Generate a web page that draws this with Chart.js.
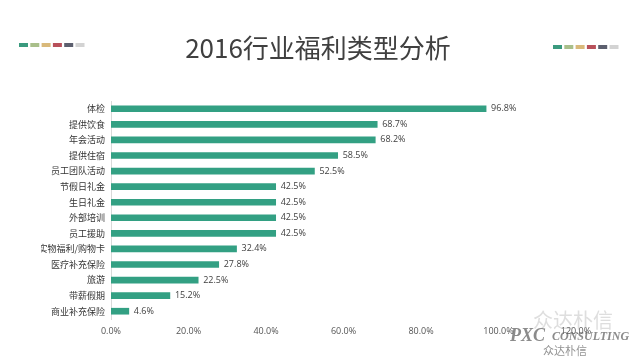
<!DOCTYPE html>
<html>
<head>
<meta charset="utf-8">
<script src="https://cdn.jsdelivr.net/npm/chart.js@4.4.1/dist/chart.umd.min.js"></script>
<style>
  html, body { margin: 0; padding: 0; background: #fff; }
  #wrap { position: relative; width: 640px; height: 360px; }
</style>
</head>
<body>
<div id="wrap"><canvas id="chart" width="640" height="360"></canvas></div>
<script>
// 福利类型（上から順）
const categories = [
  "体检", "提供饮食", "年会活动", "提供住宿", "员工团队活动",
  "节假日礼金", "生日礼金", "外部培训", "员工援助", "实物福利/购物卡",
  "医疗补充保险", "旅游", "带薪假期", "商业补充保险"
];
// 占比（%）
const shares = [96.8, 68.7, 68.2, 58.5, 52.5, 42.5, 42.5, 42.5, 42.5, 32.4, 27.8, 22.5, 15.2, 4.6];
const xTicks = [0, 20, 40, 60, 80, 100, 120];

const titleText = "2016行业福利类型分析";
const swatches = ["#3a9a7e", "#a9bf8a", "#d9b97a", "#b8505a", "#5c5f6e", "#d3d3d3"];
const cjk = "'Noto Sans CJK SC', 'Noto Sans', sans-serif";

// タイトルと飾り
const decor = {
  id: "decor",
  beforeDraw(chart) {
    const c = chart.ctx;
    c.save();
    c.fillStyle = "#404040";
    c.font = "26px " + cjk;
    c.textAlign = "center";
    c.textBaseline = "middle";
    c.fillText(titleText, 318, 48);
    const row = (x0, y) => {
      swatches.forEach((col, i) => {
        c.fillStyle = col;
        c.fillRect(x0 + i * 11.3, y, 9, 4);
      });
    };
    row(19, 43);
    row(553, 45);
    c.restore();
  },
  afterDraw(chart) {
    // 透かし
    const c = chart.ctx;
    c.save();
    c.textAlign = "left";
    c.textBaseline = "middle";
    c.fillStyle = "rgba(160,160,160,0.35)";
    c.font = "20px " + cjk;
    c.fillText("众达朴信", 533, 320);
    c.fillStyle = "rgba(100,100,100,0.75)";
    c.font = "italic bold 18px 'Liberation Serif', serif";
    c.fillText("PXC", 510, 336);
    c.font = "italic bold 12px 'Liberation Serif', serif";
    c.fillText("CONSULTING", 552, 337);
    c.fillStyle = "rgba(100,100,100,0.7)";
    c.font = "11px " + cjk;
    c.fillText("众达朴信", 543, 351);
    c.restore();
  }
};

// 数値ラベル
const valueLabels = {
  id: "valueLabels",
  afterDatasetsDraw(chart) {
    const c = chart.ctx;
    const meta = chart.getDatasetMeta(0);
    c.save();
    c.fillStyle = "#404040";
    c.font = "9px 'Open Sans', 'Noto Sans', sans-serif";
    c.textAlign = "left";
    c.textBaseline = "middle";
    meta.data.forEach((bar, i) => {
      c.fillText(shares[i].toFixed(1) + "%", bar.x + 5, bar.y);
    });
    c.restore();
  }
};

new Chart(document.getElementById("chart").getContext("2d"), {
  type: "bar",
  data: {
    labels: categories,
    datasets: [{
      data: shares,
      backgroundColor: "#33a083",
      barThickness: 6
    }]
  },
  options: {
    indexAxis: "y",
    responsive: false,
    animation: false,
    layout: { padding: { top: 101, left: 41, right: 64, bottom: 11 } },
    plugins: {
      legend: { display: false },
      tooltip: { enabled: false }
    },
    scales: {
      x: {
        min: 0,
        max: 120,
        afterFit: (s) => { s.height = 30; },
        afterBuildTicks: (s) => { s.ticks = xTicks.map(v => ({ value: v })); },
        grid: { display: false, drawTicks: false },
        border: { display: false },
        ticks: {
          padding: 7,
          color: "#555",
          font: { size: 9, family: "'Open Sans', 'Noto Sans', sans-serif" },
          callback: (v) => Number(v).toFixed(1) + "%"
        }
      },
      y: {
        afterFit: (s) => { s.width = 70; },
        grid: { display: false, drawTicks: false },
        border: { display: true, color: "#d9d9d9", width: 1 },
        ticks: {
          padding: 6,
          color: "#333",
          font: { size: 9, family: cjk }
        }
      }
    }
  },
  plugins: [decor, valueLabels]
});
</script>
</body>
</html>
